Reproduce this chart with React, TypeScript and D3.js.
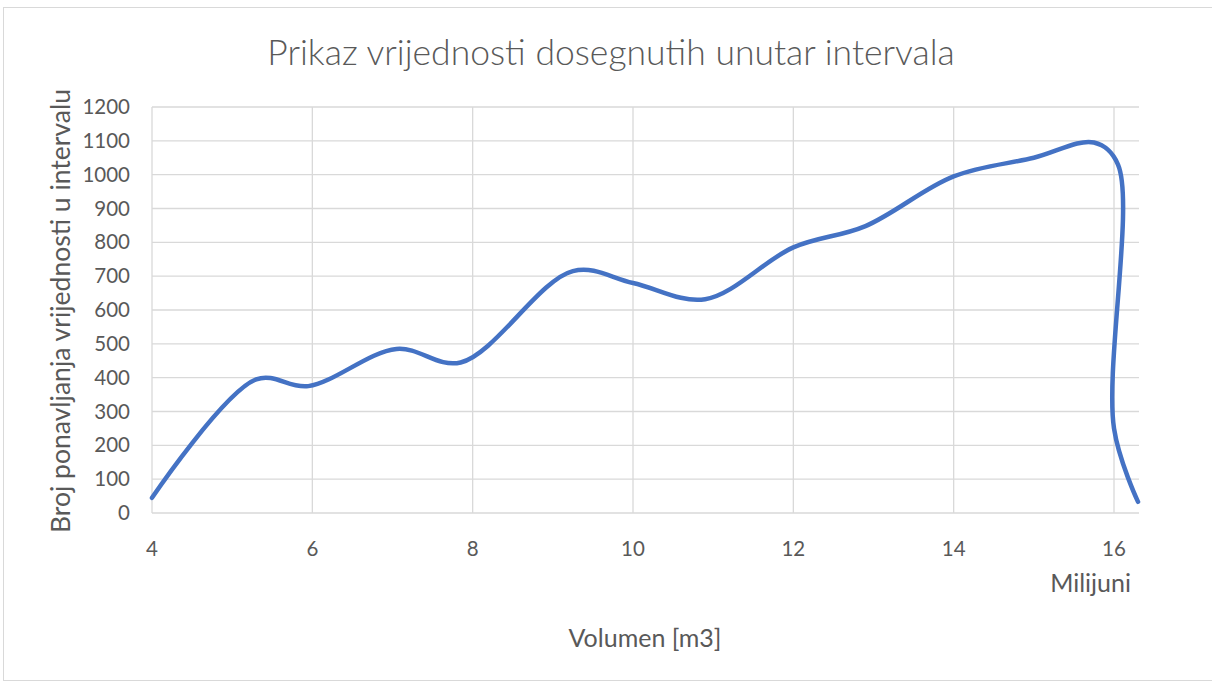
import React from "react";
import * as d3 from "d3";

// volume in millions of m3
const volumen = [4.0, 5.3, 5.95, 7.05, 7.85, 9.25, 10.0, 10.9, 12.0, 12.9, 14.0, 15.0, 15.75, 16.05, 16.0, 16.3];
// count of values in interval
const broj = [45, 395, 375, 485, 445, 715, 680, 632, 785, 848, 995, 1050, 1095, 1030, 250, 33];

const xTicks = [4, 6, 8, 10, 12, 14, 16];
const yTicks = [0, 100, 200, 300, 400, 500, 600, 700, 800, 900, 1000, 1100, 1200];

const W = 1212;
const H = 684;
const font = "Lato, 'Open Sans', sans-serif";
const textColor = "#595959";

export default function App() {
  // plot area
  const left = 152, right = 1139, top = 107, bottom = 513;

  const x = d3.scaleLinear().domain([4, 16]).range([left, 1114]);
  const y = d3.scaleLinear().domain([0, 1200]).range([bottom, top]);

  const pts: [number, number][] = volumen.map((v, i) => [v, broj[i]]);
  const line = d3
    .line<[number, number]>()
    .x((d) => x(d[0]))
    .y((d) => y(d[1]))
    .curve(d3.curveCatmullRom.alpha(0.5));

  return (
    <svg width={W} height={H} style={{ position: "absolute", left: 0, top: 0 }} fontFamily={font}>
      <rect x={0} y={0} width={W} height={H} fill="#fff" />
      {/* chart border */}
      <rect x={3.5} y={7.5} width={1220} height={673} fill="none" stroke="#d9d9d9" />

      <text x={611} y={65} textAnchor="middle" fontSize={35.5} fontWeight={300} fill={textColor}>
        Prikaz vrijednosti dosegnutih unutar intervala
      </text>

      {/* horizontal grid */}
      {yTicks.map((t) => (
        <line key={"h" + t} x1={left} x2={right} y1={y(t)} y2={y(t)} stroke="#d9d9d9" strokeWidth={1.3} />
      ))}
      {/* vertical grid */}
      {xTicks.map((t) => (
        <line key={"v" + t} x1={x(t)} x2={x(t)} y1={top} y2={bottom} stroke="#d9d9d9" strokeWidth={1.3} />
      ))}

      {yTicks.map((t) => (
        <text key={"yl" + t} x={130} y={y(t) + 7} textAnchor="end" fontSize={20.5} fill={textColor}>
          {t}
        </text>
      ))}
      {xTicks.map((t) => (
        <text key={"xl" + t} x={x(t)} y={556} textAnchor="middle" fontSize={20.5} fill={textColor}>
          {t}
        </text>
      ))}

      <text x={1131} y={592} textAnchor="end" fontSize={25} fill={textColor}>
        Milijuni
      </text>
      <text x={645} y={647} textAnchor="middle" fontSize={25} fill={textColor}>
        Volumen [m3]
      </text>
      <text
        transform={`translate(70, ${(top + bottom) / 2 + 1}) rotate(-90)`}
        textAnchor="middle"
        fontSize={26.5}
        fill={textColor}
      >
        Broj ponavljanja vrijednosti u intervalu
      </text>

      <path d={line(pts) || ""} fill="none" stroke="#4472c4" strokeWidth={4.5} strokeLinecap="round" />
    </svg>
  );
}
